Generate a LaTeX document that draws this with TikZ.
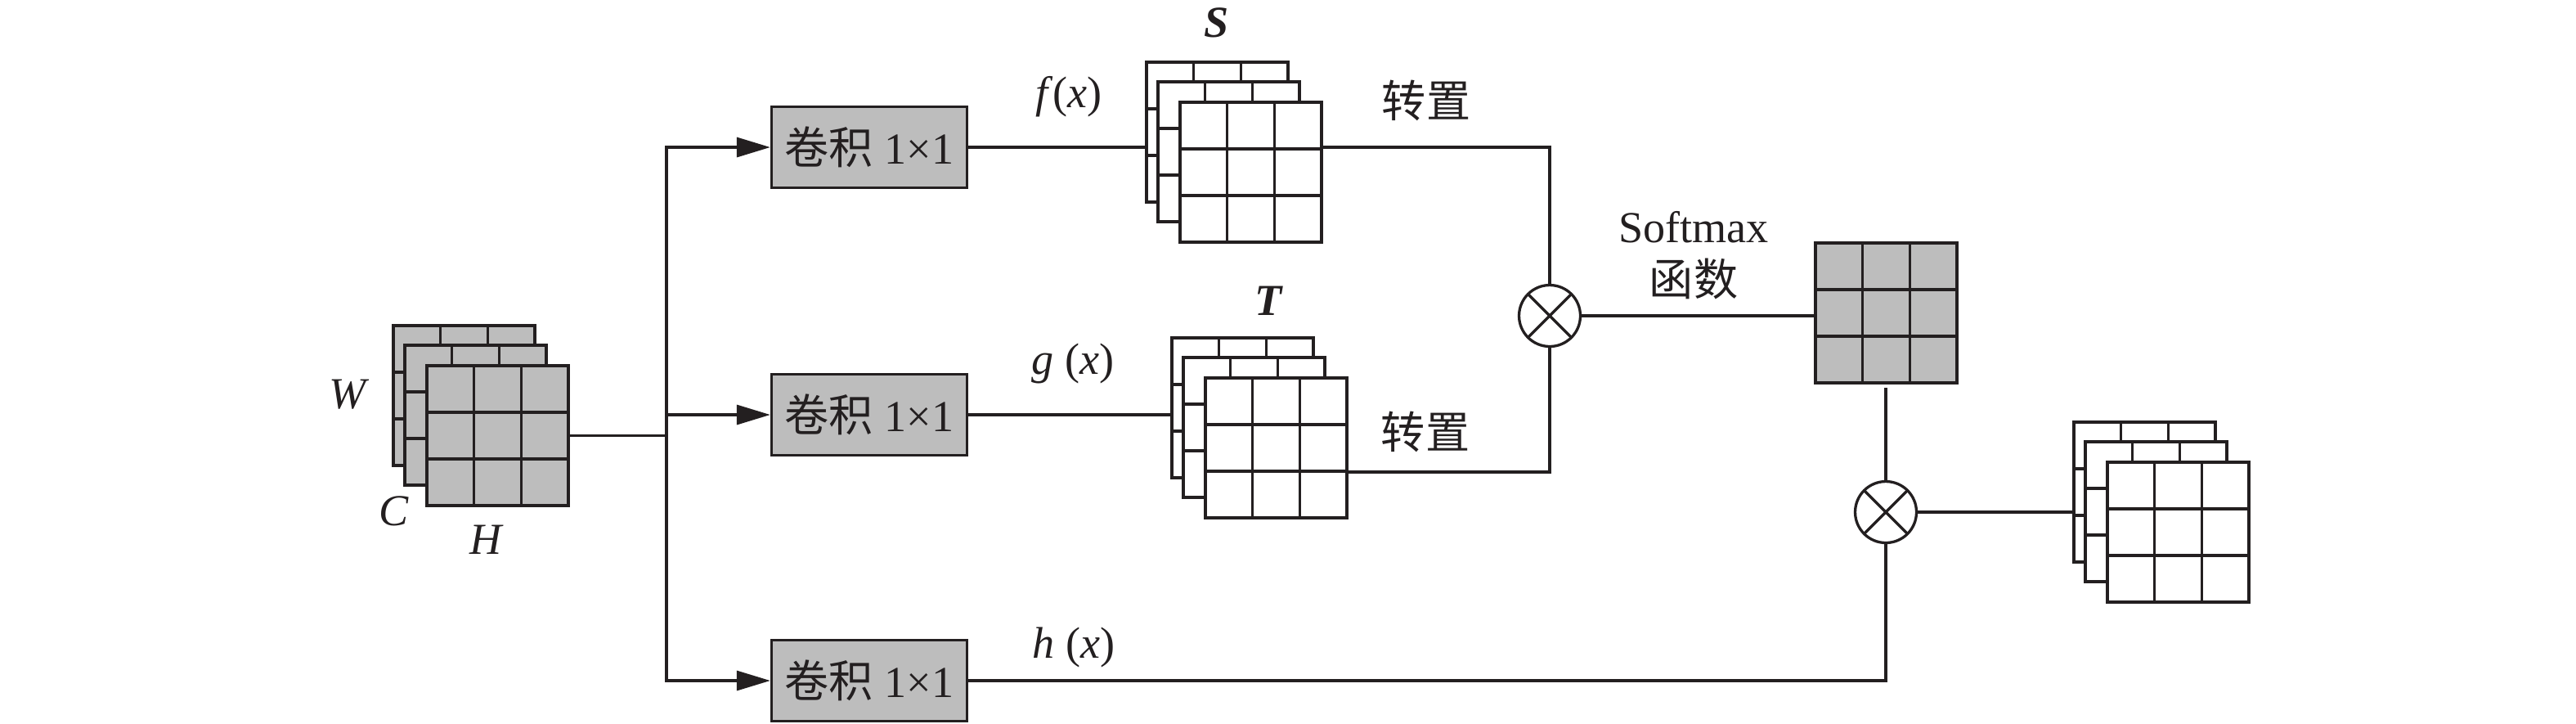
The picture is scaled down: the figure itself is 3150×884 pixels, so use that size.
\documentclass[tikz,border=0pt]{standalone}
\usepackage{fontspec}
\setmainfont{Liberation Serif}
\newfontfamily\cjk{Noto Sans CJK SC}
\usetikzlibrary{arrows.meta,positioning}
\definecolor{diagink}{HTML}{231F20}
\definecolor{diaggray}{HTML}{BDBDBD}
% three stacked 3x3 feature maps: name, x, y (back layer corner), fill
\newcommand{\fmapstack}[4]{%
  \node[fmap, fill=#4, anchor=north west] (#1b) at (#2,#3) {};
  \node[fmap, fill=#4, anchor=north west] (#1m) at ([shift={(14,24)}]#1b.north west) {};
  \node[fmap, fill=#4, anchor=north west] (#1f) at ([shift={(27,25)}]#1m.north west) {};
}

\begin{document}
\begin{tikzpicture}[
  x=0.1mm,
  y=-0.1mm,
  every node/.style={font=\fontsize{15.4}{18.5}\selectfont, text=diagink},
  wire/.style={diagink, line width=0.33mm},
  flow/.style={wire, -{Triangle[length=4.1mm, width=2.4mm]}},
  fmap/.style={draw=diagink, line width=0.33mm, minimum width=17.3mm,
    minimum height=17.1mm, inner sep=0pt, outer sep=0pt,
    path picture={
      \foreach \t in {1,2} {
        \draw[wire] ([xshift=\t*5.767mm]path picture bounding box.north west)
          -- ([xshift=\t*5.767mm]path picture bounding box.south west);
        \draw[wire] ([yshift=-\t*5.7mm]path picture bounding box.north west)
          -- ([yshift=-\t*5.7mm]path picture bounding box.north east);
      }
    }},
  convbox/.style={draw=diagink, fill=diaggray, line width=0.33mm,
    minimum width=23.9mm, minimum height=9.9mm, inner sep=0pt},
  mult/.style={circle, draw=diagink, fill=white, line width=0.33mm,
    minimum size=7.5mm, inner sep=0pt,
    path picture={
      \draw[wire] (path picture bounding box.north west) -- (path picture bounding box.south east)
        (path picture bounding box.north east) -- (path picture bounding box.south west);
    }}
]
  \useasboundingbox (0,0) rectangle (3150,884);

  % ---- feature maps ----
  \fmapstack{X}{481}{398}{diaggray}
  \fmapstack{S}{1402}{76}{white}
  \fmapstack{T}{1433}{413}{white}
  \fmapstack{O}{2536}{516}{white}
  \node[fmap, fill=diaggray, anchor=north west] (attn) at (2220,297) {};

  % ---- 1x1 convolutions ----
  \node[convbox] (conv1) at (1063,180) {{\cjk 卷积} 1×1};
  \node[convbox] (conv2) at (1063,507) {{\cjk 卷积} 1×1};
  \node[convbox] (conv3) at (1063,832) {{\cjk 卷积} 1×1};

  % ---- products ----
  \node[mult] (mulA) at (1895,386) {};
  \node[mult] (mulB) at (2306,626) {};

  % ---- input fork ----
  \coordinate (fork) at ([xshift=12mm]Xf.east);
  \draw[wire] (Xf.east) -- (fork);
  \draw[flow] (fork) |- (conv1.west);
  \draw[flow] (fork |- conv2.west) -- (conv2.west);
  \draw[flow] (fork) |- (conv3.west);

  % ---- f and g branches into the first product ----
  \draw[wire] (conv1.east) -- (conv1.east -| Sb.west);
  \draw[wire] (conv1.east -| Sf.east) -| (mulA.north);
  \draw[wire] (conv2.east) -- (conv2.east -| Tb.west);
  \coordinate (Tout) at ([yshift=-2.95mm]Tf.east);
  \draw[wire] (Tout) -| (mulA.south);
  \draw[wire] (mulA.east) -- (mulA.east -| attn.west);

  % ---- h branch and second product ----
  \coordinate (attnfoot) at ([yshift=-0.6mm]attn.south);
  \draw[wire] (mulB.north |- attnfoot) -- (mulB.north);
  \draw[wire] (mulB.south) |- (conv3.east);
  \draw[wire] (mulB.east) -- (mulB.east -| Ob.west);

  % ---- text labels ----
  \node (wlbl) at (427,482) {\textit{W}};
  \node (clbl) at (482,625) {\textit{C}};
  \node (hlbl) at (595,660) {\textit{H}};
  \node (flbl) at (1307,118) {\textit{f}(\textit{x})};
  \node (glbl) at (1312,444) {\textit{g} (\textit{x})};
  \node (hxlbl) at (1313,791) {\textit{h} (\textit{x})};
  \node (slbl) at (1488,28) {\textbf{\textit{S}}};
  \node (tlbl) at (1552,368) {\textbf{\textit{T}}};
  \node (trA) at (1744,123) {\cjk 转置};
  \node (trB) at (1743,528) {\cjk 转置};
  \node[align=center] (softlbl) at (2071,312) {Softmax\\{\cjk 函数}};
\end{tikzpicture}
\end{document}
